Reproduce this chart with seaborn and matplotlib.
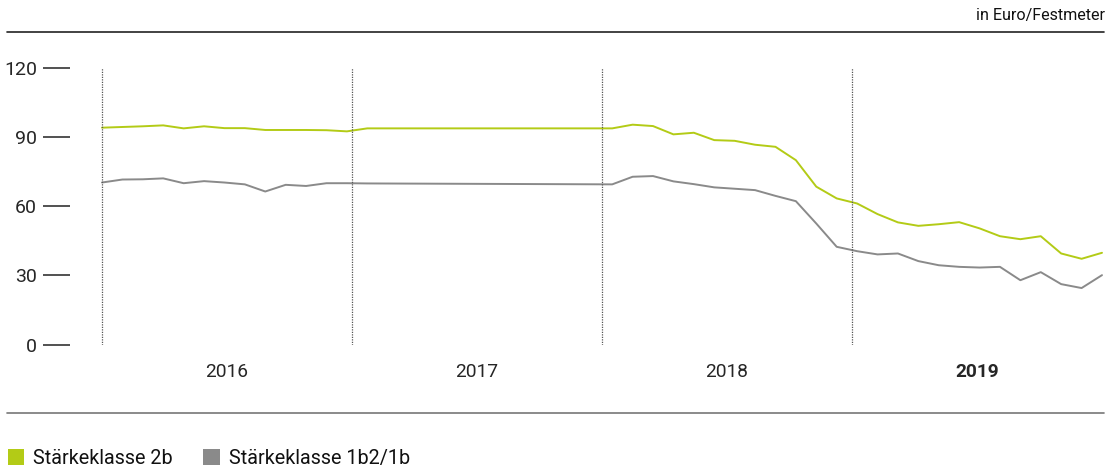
import numpy as np
import pandas as pd
import matplotlib.pyplot as plt
import seaborn as sns
from matplotlib.lines import Line2D
from matplotlib.patches import Patch

# --- data (Euro/Festmeter) ---
years = ['2016', '2017', '2018', '2019']
series_names = ['Stärkeklasse 2b', 'Stärkeklasse 1b2/1b']

# 2016: monthly points, 2017: no monthly values (line just bridges), 2018-2019 monthly
klasse_2b_2016 = [94.1, 94.4, 94.7, 95.1, 93.8, 94.7, 93.9, 93.9, 93.1, 93.1, 93.1, 93.0, 92.5, 93.8]
klasse_2b_2018_19 = [93.8, 95.4, 94.8, 91.2, 91.9, 88.7, 88.4, 86.7, 85.8, 80.0, 68.5, 63.4, 61.2,
                     56.6, 53.0, 51.5, 52.2, 53.1, 50.4, 47.0, 45.7, 47.0, 39.5, 37.2, 39.8]
klasse_1b_2016 = [70.3, 71.6, 71.7, 72.1, 70.0, 70.9, 70.3, 69.5, 66.4, 69.3, 68.8, 70.0, 70.0, 69.9]
klasse_1b_2018_19 = [69.5, 72.8, 73.1, 70.8, 69.6, 68.2, 67.6, 67.0, 64.5, 62.2, 52.5, 42.4, 40.5,
                     39.1, 39.5, 36.2, 34.4, 33.7, 33.4, 33.7, 27.9, 31.4, 26.2, 24.5, 30.1]
gap_2017 = [np.nan] * 11

y_ticks = [0, 30, 60, 90, 120]

green = '#b3cb16'
grey = '#8a8a8a'

# --- build long table ---
v_2b = klasse_2b_2016 + gap_2017 + klasse_2b_2018_19
v_1b = klasse_1b_2016 + gap_2017 + klasse_1b_2018_19
df = pd.DataFrame({
    'period': list(range(len(v_2b))) * 2,
    'value': v_2b + v_1b,
    'series': [series_names[0]] * len(v_2b) + [series_names[1]] * len(v_1b),
}).dropna()

sns.set_theme(style='white')
plt.rcParams['font.family'] = ['Roboto', 'DejaVu Sans']
plt.rcParams['text.color'] = '#111111'

fig = plt.figure(figsize=(11.09, 4.68), dpi=100)
W, H = 1109, 468
ax = fig.add_axes([70 / W, 1 - 344.5 / H, 1035 / W, (344.5 - 68) / H])

sns.lineplot(data=df, x='period', y='value', hue='series',
             palette={series_names[0]: green, series_names[1]: grey},
             linewidth=1.4, legend=False, ax=ax)

n_last = len(v_2b) - 1
ax.set_xlim(-32 / (1000 / n_last), n_last + 3 / (1000 / n_last))
ax.set_ylim(0, 120)

# year separators (dotted), start of each year only
bounds = [n_last * k / 4 for k in range(5)]
ax.vlines(bounds[:4], 0, 120, colors='#555555', linestyles=(0, (1, 1)), linewidth=0.9)

for s in ax.spines.values():
    s.set_visible(False)

ax.set_yticks(y_ticks)
ax.set_yticklabels([str(t) for t in y_ticks], fontsize=14)
ax.tick_params(axis='y', length=19.4, width=1.1, color='#222222', pad=4.3, left=True)

centers = [(bounds[i] + bounds[i + 1]) / 2 for i in range(4)]
ax.set_xticks(centers)
ax.set_xticklabels(years, fontsize=13.8)
ax.tick_params(axis='x', length=0, pad=13.5)
ax.get_xticklabels()[-1].set_fontweight('bold')
ax.set_xlabel('')
ax.set_ylabel('')
ax.grid(False)

# top and bottom rules
fig.add_artist(Line2D([7 / W, 1104 / W], [1 - 32 / H, 1 - 32 / H], color='#222222', lw=1.2))
fig.add_artist(Line2D([7 / W, 1104 / W], [1 - 413 / H, 1 - 413 / H], color='#777777', lw=1.2))
fig.text(1105 / W, 1 - 15.5 / H, 'in Euro/Festmeter', ha='right', va='center', fontsize=11.6)

handles = [Patch(facecolor=green, edgecolor='none'), Patch(facecolor=grey, edgecolor='none')]
fig.legend(handles, series_names, loc='lower left', bbox_to_anchor=(2 / W, -0.012),
           ncol=2, frameon=False, fontsize=14.2, handlelength=0.82, handleheight=0.82,
           handletextpad=0.46, columnspacing=1.55, borderpad=0.1, borderaxespad=0.2)

fig.savefig('out.png', dpi=100)
